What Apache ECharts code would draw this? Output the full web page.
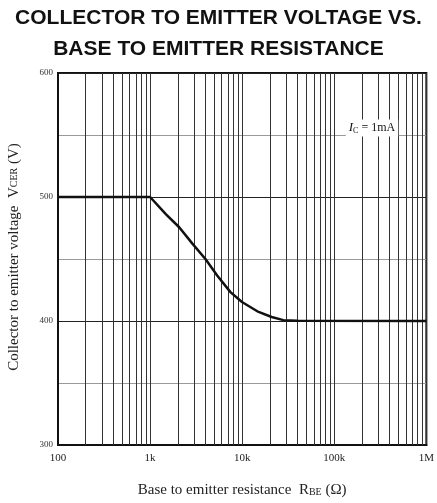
<!DOCTYPE html>
<html>
<head>
<meta charset="utf-8">
<script src="https://cdn.jsdelivr.net/npm/echarts@6/dist/echarts.min.js"></script>
<style>
html,body{margin:0;padding:0;background:#fff;}
#chart{width:437px;height:503px;}
</style>
</head>
<body>
<div id="chart"></div>
<script>
// Data
const resistance = [100, 1000, 1490, 2070, 2880, 4010, 5350, 7460, 9950, 15060, 20900, 28000, 40000, 1000000];
const vcer = [500, 500, 486, 475.6, 462.4, 449.8, 436.7, 423.3, 415.3, 407.3, 403.2, 400.7, 400.2, 400];
const xTickLabels = {100: '100', 1000: '1k', 10000: '10k', 100000: '100k', 1000000: '1M'};
const yTickLabels = [300, 400, 500, 600];
const decades = [100, 1000, 10000, 100000];
const minorMultipliers = [2, 3, 4, 5, 6, 7, 8, 9];

const minorGrid = [];
decades.forEach(d => {
  minorMultipliers.forEach(m => minorGrid.push({xAxis: d * m}));
  if (d > 100) minorGrid.push({xAxis: d});
});

const chart = echarts.init(document.getElementById('chart'), null, {renderer: 'canvas'});
const serif = '"Liberation Serif", "DejaVu Serif", serif';

chart.setOption({
  animation: false,
  backgroundColor: '#fff',
  title: {
    text: 'COLLECTOR TO EMITTER VOLTAGE VS.\nBASE TO EMITTER RESISTANCE',
    left: 'center',
    top: -2,
    textStyle: {
      fontFamily: '"Liberation Sans", Arial, sans-serif',
      fontWeight: 'bold',
      fontSize: 21,
      lineHeight: 31,
      color: '#111'
    }
  },
  grid: {
    left: 58, right: 8, top: 73, bottom: 57,
    show: true, borderColor: '#111', borderWidth: 2,
    containLabel: false
  },
  xAxis: {
    type: 'log',
    logBase: 10,
    min: 100,
    max: 1000000,
    name: 'Base to emitter resistance  {s|R}{sub|BE} {s|(Ω)}',
    nameLocation: 'middle',
    nameGap: 38,
    nameTextStyle: {
      fontFamily: serif, fontSize: 15, color: '#222',
      rich: {
        s: {fontFamily: serif, fontSize: 15, color: '#222'},
        sub: {fontFamily: serif, fontSize: 10, color: '#222', padding: [4, 0, 0, 0]}
      }
    },
    axisLine: {show: true, lineStyle: {color: '#111', width: 2}},
    axisTick: {show: false},
    splitLine: {show: true, lineStyle: {color: '#333', width: 1}},
    axisLabel: {
      fontFamily: serif, fontSize: 11, color: '#222', margin: 8,
      formatter: v => xTickLabels[Math.round(v)] || ''
    }
  },
  yAxis: {
    type: 'value',
    min: 300,
    max: 600,
    interval: 50,
    axisLine: {show: true, lineStyle: {color: '#111', width: 2}},
    axisTick: {show: false},
    splitLine: {show: true, lineStyle: {color: ['#222', '#999'], width: 1}},
    axisLabel: {
      fontFamily: serif, fontSize: 9, color: '#333', margin: 5,
      formatter: v => yTickLabels.includes(v) ? String(v) : ''
    }
  },
  graphic: [
    {
      type: 'text',
      x: 14, y: 257,
      rotation: Math.PI / 2,
      style: {
        text: 'Collector to emitter voltage  {v|V}{sub|CER} {v|(V)}',
        fontFamily: serif, fontSize: 15, fill: '#222',
        align: 'center', verticalAlign: 'middle',
        rich: {
          v: {fontFamily: serif, fontSize: 15, fill: '#222'},
          sub: {fontFamily: serif, fontSize: 10, fill: '#222'}
        }
      }
    },
    {
      type: 'text',
      x: 372, y: 128,
      style: {
        text: '{i|I}{sub|C} = 1mA',
        fontFamily: serif, fontSize: 12, fill: '#111',
        align: 'center', verticalAlign: 'middle',
        backgroundColor: '#fff', padding: [2, 3],
        rich: {
          i: {fontFamily: serif, fontSize: 13, fontStyle: 'italic', fill: '#111'},
          sub: {fontFamily: serif, fontSize: 8, fill: '#111', padding: [5, 0, 0, 0]}
        }
      },
      z: 100
    }
  ],
  series: [
    {
      type: 'line',
      data: resistance.map((r, i) => [r, vcer[i]]),
      showSymbol: false,
      smooth: false,
      lineStyle: {color: '#111', width: 2.5, join: 'round'},
      z: 10,
      markLine: {
        silent: true,
        symbol: 'none',
        label: {show: false},
        lineStyle: {color: '#333', width: 1, type: 'solid'},
        data: minorGrid,
        z: 1
      }
    }
  ]
});
</script>
</body>
</html>
